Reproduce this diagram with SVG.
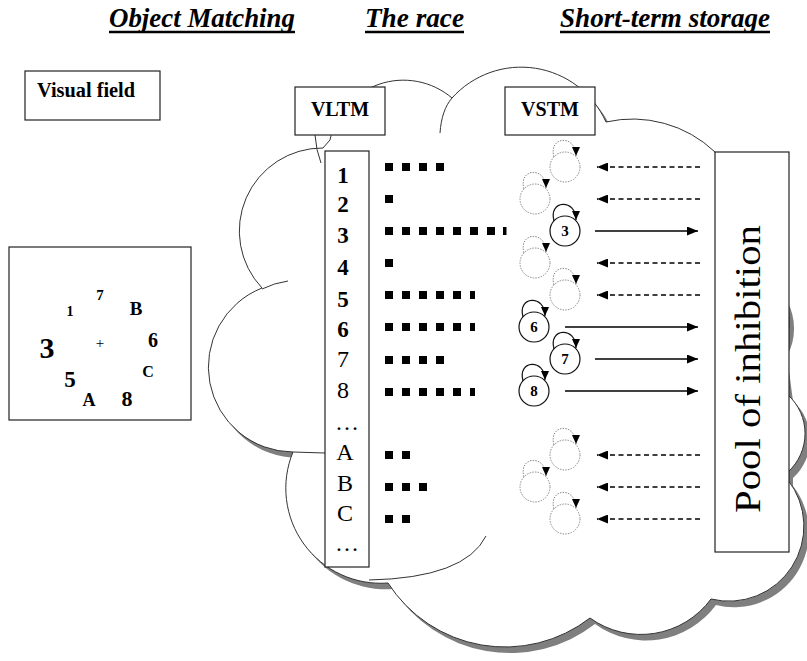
<svg xmlns="http://www.w3.org/2000/svg" xmlns:xlink="http://www.w3.org/1999/xlink" width="807" height="661" viewBox="0 0 807 661">
<style>
text{font-family:"Liberation Serif","Times New Roman",serif;fill:#000}
.title{font-weight:bold;font-style:italic;font-size:28px}
.b{font-weight:bold}
.box{fill:#fff;stroke:#222;stroke-width:1.2}
.sq{fill:#000}
.dot{fill:none;stroke:#8a8a8a;stroke-width:1;stroke-dasharray:1.5 1.2}
.sol{fill:#fff;stroke:#111;stroke-width:1.2}
.dotl{fill:none;stroke:#8a8a8a;stroke-width:1;stroke-dasharray:1.5 1.2}
.soll{fill:none;stroke:#111;stroke-width:1.2}
.dash{stroke:#000;stroke-width:1.4;stroke-dasharray:5 3.5;fill:none}
.solid{stroke:#000;stroke-width:1.4;fill:none}
.cl{fill:#fff;stroke:#333;stroke-width:1}
.inner{fill:none;stroke:#333;stroke-width:1}
</style>
<defs>
<marker id="ah" markerUnits="userSpaceOnUse" markerWidth="11" markerHeight="9" refX="11" refY="4.5" orient="auto"><path d="M0,0 L11,4.5 L0,9 z" fill="#000"/></marker>
<marker id="lh" markerUnits="userSpaceOnUse" markerWidth="9" markerHeight="8" refX="9" refY="4" orient="auto"><path d="M0,0 L9,4 L0,8 z" fill="#000"/></marker>
<path id="cloudPath" d="M330,140 A75,75 0 0 1 452,98 A93,93 0 0 1 606,122 A120,120 0 0 1 715,152 L782,295 A57,57 0 0 1 782,350 L788,395 A52,52 0 0 1 788,472 L788,480 A75,75 0 0 1 711,599 A87,87 0 0 1 590,618 A139,139 0 0 1 388,583 A95,95 0 0 1 293,452 A85,85 0 0 1 262,288 A83,83 0 0 1 323,148 Z"/>
</defs>

<g id="titles">
<text class="title" x="109" y="27" textLength="186" lengthAdjust="spacingAndGlyphs">Object Matching</text>
<line x1="109" y1="32" x2="295" y2="32" stroke="#000" stroke-width="2.5"/>
<text class="title" x="365" y="27" textLength="99" lengthAdjust="spacingAndGlyphs">The race</text>
<line x1="365" y1="32" x2="464" y2="32" stroke="#000" stroke-width="2.5"/>
<text class="title" x="560" y="27" textLength="210" lengthAdjust="spacingAndGlyphs">Short-term storage</text>
<line x1="560" y1="32" x2="770" y2="32" stroke="#000" stroke-width="2.5"/>
</g>

<g id="visual-field-label">
<rect class="box" x="25" y="71" width="135" height="49"/>
<text class="b" x="37" y="97" font-size="20" textLength="98" lengthAdjust="spacingAndGlyphs">Visual field</text>
</g>

<g id="stimulus">
<rect class="box" x="9" y="247" width="182" height="173"/>
<g class="b" text-anchor="middle">
<text x="100" y="300" font-size="15">7</text>
<text x="70" y="316" font-size="14">1</text>
<text x="136" y="315" font-size="19">B</text>
<text x="47" y="358" font-size="30">3</text>
<text x="153" y="347" font-size="20">6</text>
<text x="148" y="377" font-size="16">C</text>
<text x="70" y="387" font-size="23">5</text>
<text x="89" y="406" font-size="18">A</text>
<text x="127" y="406" font-size="22">8</text>
</g>
<text x="100" y="348" font-size="15" text-anchor="middle">+</text>
</g>

<g id="cloud">
<use xlink:href="#cloudPath" href="#cloudPath" fill="#7f7f7f" transform="translate(5,6)"/>
<use xlink:href="#cloudPath" href="#cloudPath" class="cl"/>
<path class="inner" d="M440,133 C441,118 445,106 452,98"/>
<path class="inner" d="M288,281 Q274,283 262,289"/>
<path class="inner" d="M293,452 L325,453"/>
<path class="inner" d="M315,135 Q316,150 321,163"/>
<path class="inner" d="M369,580 Q465,578 486,536"/>
</g>

<g id="vltm">
<rect class="box" x="295" y="87" width="90" height="48"/>
<text class="b" x="340" y="116" font-size="20" text-anchor="middle">VLTM</text>
</g>

<g id="vltm-list">
<rect class="box" x="325" y="151" width="44" height="416"/>
<g class="b" font-size="23" text-anchor="middle">
<text x="343" y="183">1</text>
<text x="343" y="212">2</text>
<text x="343" y="243">3</text>
<text x="343" y="275">4</text>
<text x="343" y="307">5</text>
<text x="343" y="337">6</text>
</g>
<g font-size="24" text-anchor="middle">
<text x="343" y="367">7</text>
<text x="343" y="398">8</text>
<text x="347" y="430">…</text>
<text x="345" y="460">A</text>
<text x="345" y="491">B</text>
<text x="345" y="521">C</text>
<text x="347" y="551">…</text>
</g>
</g>

<g id="race">
<g id="race-1"><rect class="sq" x="385" y="163" width="8" height="8"/><rect class="sq" x="402" y="163" width="8" height="8"/><rect class="sq" x="419" y="163" width="8" height="8"/><rect class="sq" x="436" y="163" width="8" height="8"/></g>
<g id="race-2"><rect class="sq" x="385" y="195" width="8" height="8"/></g>
<g id="race-3"><rect class="sq" x="385" y="227" width="8" height="8"/><rect class="sq" x="402" y="227" width="8" height="8"/><rect class="sq" x="419" y="227" width="8" height="8"/><rect class="sq" x="436" y="227" width="8" height="8"/><rect class="sq" x="453" y="227" width="8" height="8"/><rect class="sq" x="470" y="227" width="8" height="8"/><rect class="sq" x="487" y="227" width="8" height="8"/><rect class="sq" x="503" y="227" width="3.5" height="8"/></g>
<g id="race-4"><rect class="sq" x="385" y="259" width="8" height="8"/></g>
<g id="race-5"><rect class="sq" x="385" y="291" width="8" height="8"/><rect class="sq" x="402" y="291" width="8" height="8"/><rect class="sq" x="419" y="291" width="8" height="8"/><rect class="sq" x="436" y="291" width="8" height="8"/><rect class="sq" x="453" y="291" width="8" height="8"/><rect class="sq" x="470" y="291" width="5" height="8"/></g>
<g id="race-6"><rect class="sq" x="385" y="323" width="8" height="8"/><rect class="sq" x="402" y="323" width="8" height="8"/><rect class="sq" x="419" y="323" width="8" height="8"/><rect class="sq" x="436" y="323" width="8" height="8"/><rect class="sq" x="453" y="323" width="8" height="8"/><rect class="sq" x="470" y="323" width="5" height="8"/></g>
<g id="race-7"><rect class="sq" x="385" y="356" width="8" height="8"/><rect class="sq" x="402" y="356" width="8" height="8"/><rect class="sq" x="419" y="356" width="8" height="8"/><rect class="sq" x="436" y="356" width="8" height="8"/></g>
<g id="race-8"><rect class="sq" x="385" y="388" width="8" height="8"/><rect class="sq" x="402" y="388" width="8" height="8"/><rect class="sq" x="419" y="388" width="8" height="8"/><rect class="sq" x="436" y="388" width="8" height="8"/><rect class="sq" x="453" y="388" width="8" height="8"/><rect class="sq" x="470" y="388" width="5" height="8"/></g>
<g id="race-A"><rect class="sq" x="385" y="451" width="8" height="8"/><rect class="sq" x="402" y="451" width="8" height="8"/></g>
<g id="race-B"><rect class="sq" x="385" y="483" width="8" height="8"/><rect class="sq" x="402" y="483" width="8" height="8"/><rect class="sq" x="419" y="483" width="8" height="8"/></g>
<g id="race-C"><rect class="sq" x="385" y="515" width="8" height="8"/><rect class="sq" x="402" y="515" width="8" height="8"/></g>
</g>

<g id="vstm">
<rect class="box" x="505" y="87" width="90" height="48"/>
<text class="b" x="550" y="116" font-size="20" text-anchor="middle">VSTM</text>
</g>

<g id="vstm-nodes">
<circle id="u1" class="dot" cx="565" cy="167" r="15"/>
<circle id="u2" class="dot" cx="535" cy="199" r="15"/>
<g id="n3"><circle class="sol" cx="565" cy="231" r="15"/><text class="b" x="565" y="236" font-size="15" text-anchor="middle">3</text></g>
<circle id="u4" class="dot" cx="535" cy="263" r="15"/>
<circle id="u5" class="dot" cx="565" cy="295" r="15"/>
<g id="n6"><circle class="sol" cx="534" cy="327" r="15"/><text class="b" x="534" y="332" font-size="15" text-anchor="middle">6</text></g>
<g id="n7"><circle class="sol" cx="565" cy="359" r="15"/><text class="b" x="565" y="364" font-size="15" text-anchor="middle">7</text></g>
<g id="n8"><circle class="sol" cx="534" cy="391" r="15"/><text class="b" x="534" y="396" font-size="15" text-anchor="middle">8</text></g>
<circle id="uA" class="dot" cx="565" cy="455" r="15"/>
<circle id="uB" class="dot" cx="535" cy="487" r="15"/>
<circle id="uC" class="dot" cx="565" cy="519" r="15"/>
</g>

<g id="pool">
<rect class="box" x="715" y="152" width="74" height="400"/>
<text x="0" y="0" font-size="36" text-anchor="middle" textLength="288" lengthAdjust="spacingAndGlyphs" transform="translate(760,369) rotate(-90)">Pool of inhibition</text>
</g>

<g id="connectors">
<g id="loops">
<path class="dotl" d="M554,157 C548,136 576,134 576,156" marker-end="url(#lh)"/>
<path class="dotl" d="M524,189 C518,168 546,166 546,188" marker-end="url(#lh)"/>
<path class="soll" d="M554,221 C548,200 576,198 576,220" marker-end="url(#lh)"/>
<path class="dotl" d="M524,253 C518,232 546,230 546,252" marker-end="url(#lh)"/>
<path class="dotl" d="M554,285 C548,264 576,262 576,284" marker-end="url(#lh)"/>
<path class="soll" d="M523,317 C517,296 545,294 545,316" marker-end="url(#lh)"/>
<path class="soll" d="M554,349 C548,328 576,326 576,348" marker-end="url(#lh)"/>
<path class="soll" d="M523,381 C517,360 545,358 545,380" marker-end="url(#lh)"/>
<path class="dotl" d="M554,445 C548,424 576,422 576,444" marker-end="url(#lh)"/>
<path class="dotl" d="M524,477 C518,456 546,454 546,476" marker-end="url(#lh)"/>
<path class="dotl" d="M554,509 C548,488 576,486 576,508" marker-end="url(#lh)"/>
</g>
<line class="dash" x1="700" y1="167" x2="597" y2="167" marker-end="url(#ah)"/>
<line class="dash" x1="700" y1="199" x2="597" y2="199" marker-end="url(#ah)"/>
<line class="solid" x1="595" y1="231" x2="698" y2="231" marker-end="url(#ah)"/>
<line class="dash" x1="700" y1="263" x2="597" y2="263" marker-end="url(#ah)"/>
<line class="dash" x1="700" y1="295" x2="597" y2="295" marker-end="url(#ah)"/>
<line class="solid" x1="565" y1="327" x2="698" y2="327" marker-end="url(#ah)"/>
<line class="solid" x1="595" y1="359" x2="698" y2="359" marker-end="url(#ah)"/>
<line class="solid" x1="565" y1="391" x2="698" y2="391" marker-end="url(#ah)"/>
<line class="dash" x1="700" y1="455" x2="597" y2="455" marker-end="url(#ah)"/>
<line class="dash" x1="700" y1="487" x2="597" y2="487" marker-end="url(#ah)"/>
<line class="dash" x1="700" y1="519" x2="597" y2="519" marker-end="url(#ah)"/>
</g>
</svg>
